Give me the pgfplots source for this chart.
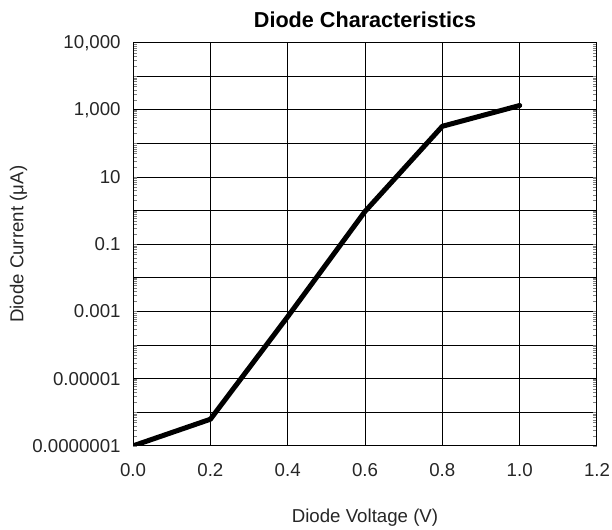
\documentclass[border=0pt]{standalone}
\usepackage{pgfplots}
\pgfplotsset{compat=1.18}
\usepackage{fontspec}
\setmainfont{Liberation Sans}

\begin{document}
\begin{tikzpicture}
\useasboundingbox (-99.75pt,-62.5pt) rectangle (359.05pt,334.25pt);
\begin{axis}[
  scale only axis,
  width=347.8pt, height=302.25pt,
  at={(0,0)}, anchor=south west,
  ymode=log,
  xmin=0, xmax=1.2, ymin=1e-7, ymax=1e5,
  xtick={0,0.2,0.4,0.6,0.8,1.0,1.2},
  xticklabels={0.0,0.2,0.4,0.6,0.8,1.0,1.2},
  ytick={1e-7,1e-6,1e-5,1e-4,1e-3,1e-2,1e-1,1e0,1e1,1e2,1e3,1e4,1e5},
  yticklabels={0.0000001,,0.00001,,0.001,,0.1,,10,,{1,000},,{10,000}},
  major tick length=0pt,
  grid=major,
  major grid style={black, line width=0.75pt},
  axis line style={black, line width=0.75pt},
  tick label style={font=\fontsize{14}{16}\selectfont, text=black!85},
  yticklabel style={xshift=-5.8pt},
  xticklabel style={yshift=-9.5pt},
  title={\textbf{Diode Characteristics}},
  title style={font=\fontsize{16.2}{18}\selectfont, at={(axis description cs:0.5,1)}, anchor=center, yshift=11pt},
  xlabel={Diode Voltage (V)},
  xlabel style={font=\fontsize{14}{16}\selectfont, at={(axis description cs:0.5,0)}, anchor=center, yshift=-54pt, text=black!85},
  ylabel={Diode Current (μA)},
  ylabel style={font=\fontsize{14}{16}\selectfont, at={(axis description cs:-0.247,0.5)}, anchor=center, text=black!85},
]
\addplot[black, line width=3.75pt, line join=round, line cap=round] coordinates {
  (0.0,1e-7) (0.2,6.2e-7) (0.4,7e-4) (0.6,0.95) (0.8,325) (1.0,1350)
};
\end{axis}
\end{tikzpicture}
\end{document}
